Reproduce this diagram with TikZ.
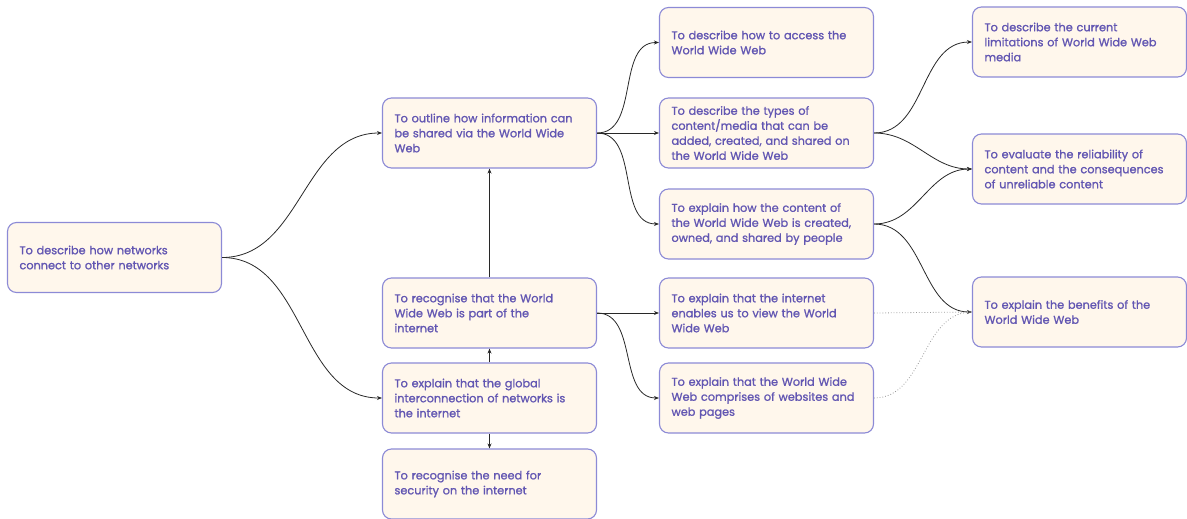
\documentclass[tikz,border=0pt]{standalone}
\usepackage{fontspec}
\setmainfont{Poppins}
\newfontfamily\goalfont{Poppins}[FakeBold=1.2]
\usepackage{tikz}
\usetikzlibrary{arrows.meta,positioning}
\definecolor{boxfill}{RGB}{255, 247, 236}
\definecolor{boxline}{RGB}{140, 138, 214}
\definecolor{boxtext}{RGB}{98, 86, 178}
\definecolor{linkcolor}{RGB}{40, 40, 40}

\begin{document}
\begin{tikzpicture}[x=1pt, y=-1pt,
    goal/.style={draw=boxline, fill=boxfill, rounded corners=9pt, line width=1.1pt,
        text width=190pt, inner xsep=12pt, minimum height=70pt, align=left,
        text=boxtext, font=\goalfont\fontsize{11.3}{15}\selectfont},
    link/.style={draw=linkcolor, line width=0.8pt, -{Stealth[length=5pt,width=4pt]}},
    weaklink/.style={draw=gray!80, line width=0.8pt, dotted}]
    \useasboundingbox (0,0) rectangle (1187,519);

    % Left column
    \node[goal] (networks) at (114.5,257.5) {To describe how networks\\connect to other networks};

    % Middle column
    \node[goal] (outline) at (489.5,133) {To outline how information can\\be shared via the World Wide\\Web};
    \node[goal] (partof) at (489.5,313) {To recognise that the World\\Wide Web is part of the\\internet};
    \node[goal] (global) at (489.5,398) {To explain that the global\\interconnection of networks is\\the internet};
    \node[goal] (security) at (489.5,484) {To recognise the need for\\security on the internet};

    % Right column
    \node[goal] (access) at (766.5,42.5) {To describe how to access the\\World Wide Web};
    \node[goal] (types) at (766.5,133) {To describe the types of\\content/media that can be\\added, created, and shared on\\the World Wide Web};
    \node[goal] (owned) at (766.5,224) {To explain how the content of\\the World Wide Web is created,\\owned, and shared by people};
    \node[goal] (enables) at (766.5,313) {To explain that the internet\\enables us to view the World\\Wide Web};
    \node[goal] (websites) at (766.5,398) {To explain that the World Wide\\Web comprises of websites and\\web pages};

    % Far right column
    \node[goal] (limits) at (1079.5,42) {To describe the current\\limitations of World Wide Web\\media};
    \node[goal] (reliable) at (1079.5,169) {To evaluate the reliability of\\content and the consequences\\of unreliable content};
    \node[goal] (benefits) at (1079.5,312) {To explain the benefits of the\\World Wide Web};

    % Links
    \draw[link] (networks.east) to[out=0, in=180] (outline.west);
    \draw[link] (networks.east) to[out=0, in=180] (global.west);
    \draw[link] (global.north) -- (partof.south);
    \draw[link] (global.south) -- (security.north);
    \draw[link] (partof.north) -- (outline.south);
    \draw[link] (partof.east) -- (enables.west);
    \draw[link] (partof.east) to[out=0, in=180] (websites.west);
    \draw[link] (outline.east) to[out=0, in=180] (access.west);
    \draw[link] (outline.east) -- (types.west);
    \draw[link] (outline.east) to[out=0, in=180] (owned.west);
    \draw[link] (types.east) to[out=0, in=180] (limits.west);
    \draw[link] (types.east) to[out=0, in=180] (reliable.west);
    \draw[link] (owned.east) to[out=0, in=180] (reliable.west);
    \draw[link] (owned.east) to[out=0, in=180] (benefits.west);

    % Dotted links
    \draw[weaklink] (enables.east) -- (benefits.west);
    \draw[weaklink] (websites.east) to[out=0, in=180] (benefits.west);
\end{tikzpicture}
\end{document}
